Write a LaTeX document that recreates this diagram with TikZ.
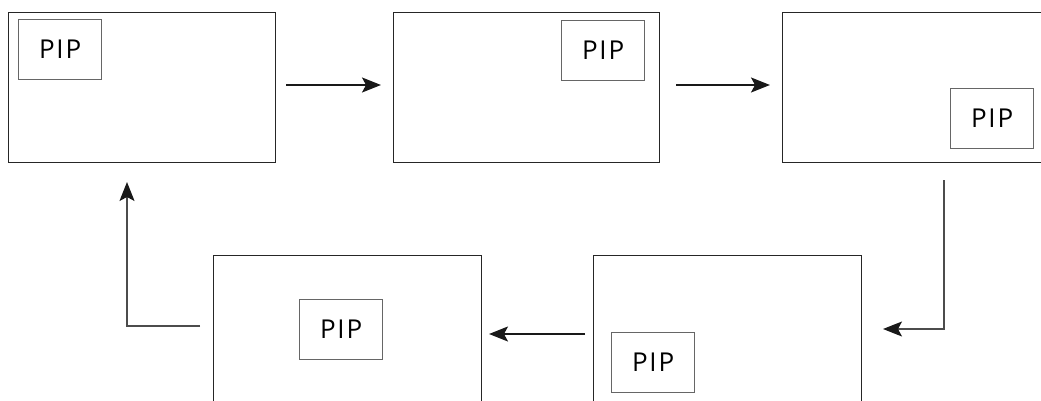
\documentclass[tikz,border=0pt]{standalone}
\usepackage{fontspec}
\setsansfont{Open Sans}[LetterSpace=7]
\usetikzlibrary{arrows.meta}
\begin{document}
\begin{tikzpicture}[x=1pt,y=-1pt,
  screen/.style={draw=black!85,line width=1.3pt,anchor=north west,minimum width=267pt,minimum height=150pt,inner sep=0pt},
  pip/.style={draw=black!60,line width=1.2pt,anchor=north west,minimum width=83pt,minimum height=60pt,inner sep=0pt,font=\sffamily\fontsize{26}{26}\selectfont,text=black},
  flow/.style={draw=black!90,line width=1.4pt,-{Stealth[length=19pt,width=15pt,inset=4pt]}},
  link/.style={draw=black!70,line width=1.2pt,-{Stealth[length=19pt,width=15pt,inset=4pt,color=black!90]}}]
\useasboundingbox (0,0) rectangle (1041,401);
\clip (0,0) rectangle (1041,401);
\node[screen] (b1) at (8,12) {};
\node[screen,minimum width=266pt] (b2) at (393,12) {};
\node[screen] (b3) at (782,12) {};
\node[screen,minimum width=268pt] (b4) at (593,255) {};
\node[screen,minimum width=268pt] (b5) at (213,255) {};
\node[pip] (p1) at (18,19) {PIP};
\node[pip] (p2) at (561,20) {PIP};
\node[pip] (p3) at (950,88) {PIP};
\node[pip] (p4) at (611,332) {PIP};
\node[pip] (p5) at (299,299) {PIP};
\coordinate (a1s) at (286,85); \coordinate (a1e) at (381,85);
\coordinate (a2s) at (676,85); \coordinate (a2e) at (770,85);
\coordinate (rs) at (944,180); \coordinate (rc) at (944,329); \coordinate (re) at (883,329);
\coordinate (bs) at (585,334); \coordinate (be) at (489,334);
\coordinate (ls) at (200,326); \coordinate (lc) at (127,326); \coordinate (le) at (127,182);
\draw[flow] (a1s) -- (a1e);
\draw[flow] (a2s) -- (a2e);
\draw[link] (rs) -- (rc) -- (re);
\draw[flow] (bs) -- (be);
\draw[link] (ls) -- (lc) -- (le);
\end{tikzpicture}
\end{document}
